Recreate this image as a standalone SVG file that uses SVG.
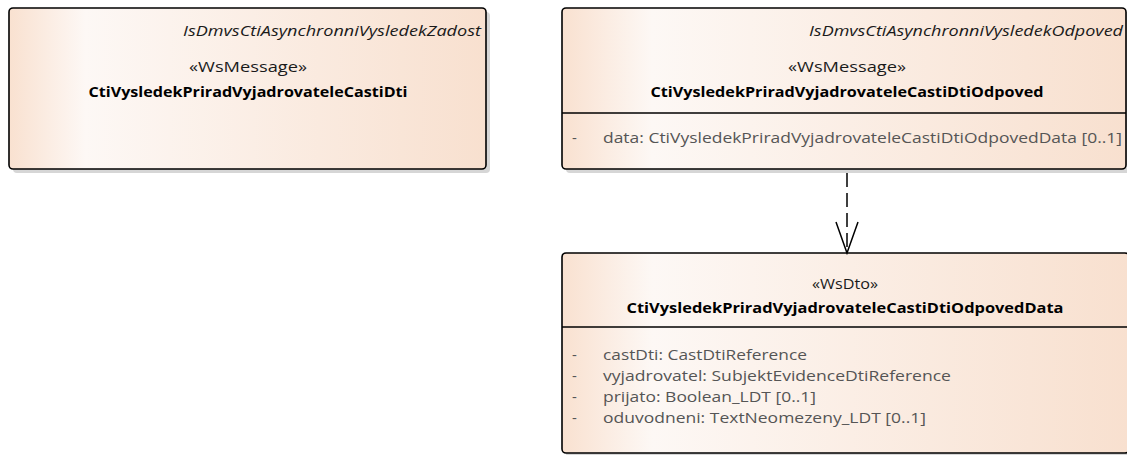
<svg xmlns="http://www.w3.org/2000/svg" width="1127" height="455" viewBox="0 0 1127 455">
  <defs>
    <linearGradient id="fill" x1="0" y1="0" x2="1" y2="0">
      <stop offset="0" stop-color="#f9e1d0"/>
      <stop offset="0.16" stop-color="#fdf8f5"/>
      <stop offset="1" stop-color="#f8e0cf"/>
    </linearGradient>
    <marker id="open" viewBox="0 0 34 24" refX="32" refY="12" markerWidth="34" markerHeight="24" markerUnits="userSpaceOnUse" orient="auto">
      <path d="M1,1 L32,12 L1,23" fill="none" stroke="#000" stroke-width="1.5"/>
    </marker>
  </defs>
  <style>
    .shadow { fill: #d6d6d6; }
    .box { fill: url(#fill); stroke: #000; stroke-width: 1.6; }
    .sep { stroke: #000; stroke-width: 1.6; }
    text { font-family: "Open Sans", Lato, "Liberation Sans", sans-serif; font-size: 15px; }
    .tag { font-style: italic; fill: #1a1a1a; text-anchor: end; }
    .stereo { fill: #1a1a1a; text-anchor: middle; }
    .name { font-weight: bold; fill: #000; text-anchor: middle; }
    .attr { fill: #555; }
    .conn { fill: none; stroke: #000; stroke-width: 1.5; }
  </style>

  <g id="node-zadost">
    <rect class="shadow" x="13" y="12" width="477" height="161" rx="4"/>
    <rect class="box" x="9" y="8" width="477" height="161" rx="4"/>
    <text class="tag" x="481" y="36" textLength="298" lengthAdjust="spacingAndGlyphs">IsDmvsCtiAsynchronniVysledekZadost</text>
    <text class="stereo" x="248" y="72" textLength="118" lengthAdjust="spacingAndGlyphs">«WsMessage»</text>
    <text class="name" x="248" y="97" textLength="319" lengthAdjust="spacingAndGlyphs">CtiVysledekPriradVyjadrovateleCastiDti</text>
  </g>

  <g id="node-odpoved">
    <rect class="shadow" x="566" y="12" width="564" height="161" rx="4"/>
    <rect class="box" x="562" y="8" width="564" height="161" rx="4"/>
    <text class="tag" x="1123" y="36" textLength="314" lengthAdjust="spacingAndGlyphs">IsDmvsCtiAsynchronniVysledekOdpoved</text>
    <text class="stereo" x="847" y="72" textLength="118" lengthAdjust="spacingAndGlyphs">«WsMessage»</text>
    <text class="name" x="847" y="97" textLength="393" lengthAdjust="spacingAndGlyphs">CtiVysledekPriradVyjadrovateleCastiDtiOdpoved</text>
    <line class="sep" x1="562" y1="113" x2="1126" y2="113"/>
    <text class="attr" x="572" y="143">-</text>
    <text class="attr" x="603" y="143" textLength="519" lengthAdjust="spacingAndGlyphs">data: CtiVysledekPriradVyjadrovateleCastiDtiOdpovedData [0..1]</text>
  </g>

  <g id="node-odpoved-data">
    <rect class="shadow" x="566" y="257" width="570" height="200" rx="4"/>
    <rect class="box" x="562" y="253" width="567" height="200" rx="4"/>
    <text class="stereo" x="845" y="289" textLength="66" lengthAdjust="spacingAndGlyphs">«WsDto»</text>
    <text class="name" x="845" y="313" textLength="437" lengthAdjust="spacingAndGlyphs">CtiVysledekPriradVyjadrovateleCastiDtiOdpovedData</text>
    <line class="sep" x1="562" y1="327" x2="1129" y2="327"/>
    <text class="attr" x="572" y="360">-</text>
    <text class="attr" x="603" y="360" textLength="204" lengthAdjust="spacingAndGlyphs">castDti: CastDtiReference</text>
    <text class="attr" x="572" y="381">-</text>
    <text class="attr" x="603" y="381" textLength="348" lengthAdjust="spacingAndGlyphs">vyjadrovatel: SubjektEvidenceDtiReference</text>
    <text class="attr" x="572" y="402">-</text>
    <text class="attr" x="603" y="402" textLength="213" lengthAdjust="spacingAndGlyphs">prijato: Boolean_LDT [0..1]</text>
    <text class="attr" x="572" y="423">-</text>
    <text class="attr" x="603" y="423" textLength="323" lengthAdjust="spacingAndGlyphs">oduvodneni: TextNeomezeny_LDT [0..1]</text>
  </g>

  <g id="connectors">
    <path class="conn" d="M847,173 L847,253" stroke-dasharray="14 6" marker-end="url(#open)"/>
  </g>
</svg>
